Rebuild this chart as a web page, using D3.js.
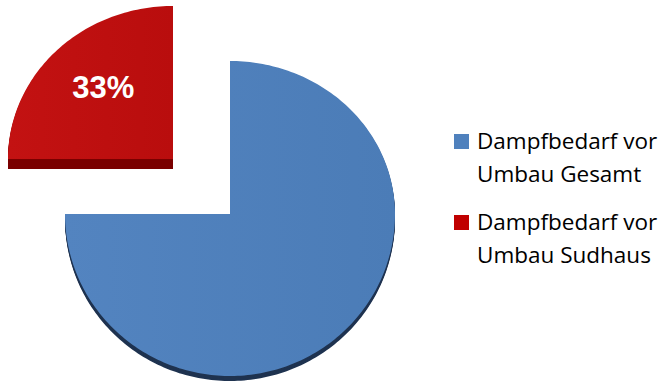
<!DOCTYPE html>
<html>
<head>
  <script src="https://cdn.jsdelivr.net/npm/d3@7"></script>
  <style>
    body { margin: 0; background: #fff; }
  </style>
</head>
<body>
  <svg width="666" height="384" id="mainsvg"></svg>
  <script>
      // data
      const categories = ['Dampfbedarf vor Umbau Gesamt', 'Dampfbedarf vor Umbau Sudhaus'];
      const legendLines = [['Dampfbedarf vor', 'Umbau Gesamt'], ['Dampfbedarf vor', 'Umbau Sudhaus']];
      const values = [75, 25];
      const colors = ['#4f81bd', '#c00000'];
      const sideColors = ['#1f3350', '#7a0000'];

      const svg = d3.select('svg');
      const defs = svg.append('defs');
      const grads = [['#5384c0', '#4b7cb7'], ['#c31212', '#b90d0d']];
      grads.forEach((g, i) => {
          const lg = defs.append('linearGradient').attr('id', 'grad' + i)
            .attr('x1', '0%').attr('y1', '0%').attr('x2', '100%').attr('y2', '0%');
          lg.append('stop').attr('offset', '0%').attr('stop-color', g[0]);
          lg.append('stop').attr('offset', '100%').attr('stop-color', g[1]);
      });

      // tilted pie: back half flatter than the front half
      const cx = 230, cy = 214, rx = 165, ryTop = 153, ryBot = 162;
      const depth = [5, 10];
      const explode = [[0, 0], [-57, -55]];

      const project = ang => {
          const c = Math.cos(ang);
          return [Math.sin(ang) * rx, -c * (c > 0 ? ryTop : ryBot)];
      };
      const wedge = a => {
          const n = Math.max(2, Math.ceil((a.endAngle - a.startAngle) / 0.02));
          const pts = [[0, 0]].concat(d3.range(n + 1).map(k => project(a.startAngle + (a.endAngle - a.startAngle) * k / n)));
          return d3.line()(pts) + 'Z';
      };

      const pie = d3.pie().sort(null).value(d => d);
      const arcs = pie(values);

      const pieGroup = svg.append('g');
      arcs.forEach((a, i) => {
          const g = pieGroup.append('g')
            .attr('transform', `translate(${cx + explode[i][0]}, ${cy + explode[i][1]})`);
          // side wall by stacking shifted copies
          for (let k = depth[i]; k > 0; k--) {
              g.append('path').attr('d', wedge(a))
                .attr('transform', `translate(0, ${k})`)
                .attr('fill', sideColors[i]);
          }
          g.append('path').attr('d', wedge(a)).attr('fill', `url(#grad${i})`);
      });

      // label of Sudhaus relative to Gesamt
      const pct = Math.round(values[1] / values[0] * 100) + '%';
      const redArc = arcs[1];
      const mid = (redArc.startAngle + redArc.endAngle) / 2;
      const lp = project(mid).map(v => v * 0.58);
      svg.append('text')
        .attr('x', cx + explode[1][0] + lp[0] - 2)
        .attr('y', cy + explode[1][1] + lp[1] + 2)
        .attr('text-anchor', 'middle')
        .attr('font-family', 'Liberation Sans, Arial, sans-serif')
        .attr('font-weight', 'bold').attr('font-size', 31)
        .attr('fill', '#fff').text(pct);

      // legend
      const legend = svg.append('g').attr('transform', 'translate(454, 134)');
      categories.forEach((c, i) => {
          const item = legend.append('g').attr('transform', `translate(0, ${i * 81})`);
          item.append('rect').attr('width', 15).attr('height', 15).attr('fill', colors[i]);
          item.selectAll('text').data(legendLines[i]).join('text')
            .attr('x', 23).attr('y', (d, j) => 15 + j * 33)
            .attr('font-family', 'Open Sans, sans-serif').attr('font-size', 22.5)
            .attr('fill', '#000').text(d => d);
      });
  </script>
</body>
</html>
